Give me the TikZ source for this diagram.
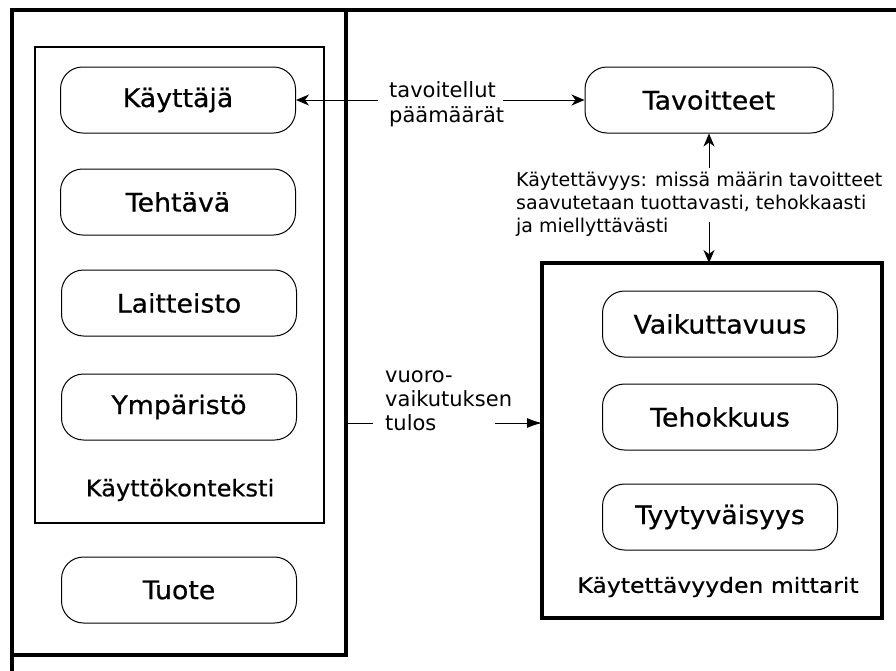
\documentclass[tikz,border=0pt]{standalone}
\usepackage{fontspec}
\setmainfont{DejaVu Sans}
\newfontfamily\labfont[FakeStretch=1.05,FakeBold=0.6]{DejaVu Sans}
\newfontfamily\widefont[FakeStretch=1.12,FakeBold=0.6]{DejaVu Sans}
\usetikzlibrary{arrows.meta}
\begin{document}
\begin{tikzpicture}[x=1pt,y=-1pt,
  frame/.style={draw, line width=4pt, inner sep=0pt, outer sep=0pt},
  thinframe/.style={draw, line width=1.3pt, inner sep=0pt, outer sep=0pt},
  rbox/.style={draw, line width=1pt, rounded corners=22pt, minimum width=235pt, minimum height=66pt, inner sep=0pt, font=\labfont\fontsize{25.5}{30}\selectfont},
  lab/.style={font=\labfont\fontsize{23}{28}\selectfont, inner sep=0pt},
  small/.style={font=\fontsize{19}{23}\selectfont, align=left, inner sep=0pt},
  arr/.style={line width=1pt, -{Stealth[length=13pt,width=11pt,inset=4pt]}},
  farr/.style={line width=1pt, -{Latex[length=15pt,width=10pt]}}
]
\useasboundingbox (0,0) rectangle (896,670);
\fill[white] (0,0) rectangle (896,670);

% frames
\node[frame, minimum width=334pt, minimum height=645pt] (lbox) at (179,332.5) {};
\node[thinframe, minimum width=289pt, minimum height=476pt] (ibox) at (179.5,285) {};
\node[frame, minimum width=340pt, minimum height=355pt] (rbox) at (712,440.5) {};
\coordinate (topend) at (898,10);
\coordinate (leftend) at (12,672);
\draw[line width=4pt] (lbox.north east) -- (topend);
\draw[line width=4pt] (lbox.south west) -- (leftend);

% left nodes
\node[rbox] (kayttaja) at (178,100) {Käyttäjä};
\node[rbox] (tehtava) at (178,202) {Tehtävä};
\node[rbox] (laitteisto) at (179,303) {Laitteisto};
\node[rbox] (ymparisto) at (179,407) {Ympäristö};
\node[lab] (kk) at (180,490) {Käyttökonteksti};
\node[rbox] (tuote) at (179,590) {Tuote};

% right nodes
\node[rbox, minimum width=248pt] (tavoitteet) at (709,100) {Tavoitteet};
\node[rbox] (vaik) at (720,324) {Vaikuttavuus};
\node[rbox] (teho) at (720,417) {Tehokkuus};
\node[rbox] (tyyty) at (720,517) {Tyytyväisyys};
\node[font=\widefont\fontsize{21}{25}\selectfont, inner sep=0pt] (mitt) at (718,587) {Käytettävyyden mittarit};

% labels
\node[small, font=\fontsize{21}{25}\selectfont, anchor=west] (tav) at (389,104) {tavoitellut\\päämäärät};
\node[small, anchor=north west] (kaytt) at (516,172) {Käytettävyys: missä määrin tavoitteet\\saavutetaan tuottavasti, tehokkaasti\\ja miellyttävästi};
\node[small, font=\fontsize{21}{24}\selectfont, anchor=west] (vuoro) at (385,401) {vuoro-\\vaikutuksen\\tulos};

% connectors
\coordinate (t1) at (378,100);
\coordinate (t2) at (503,100);
\draw[arr] (t1) -- (kayttaja.east);
\draw[arr] (t2) -- (tavoitteet.west);
\coordinate (u1) at (709,168);
\coordinate (d1) at (709,222);
\draw[arr] (u1) -- (tavoitteet.south);
\draw[arr] (d1) -- (d1 |- rbox.north);
\coordinate (v1) at (373,423);
\coordinate (v2) at (495,423);
\draw[line width=1pt] (lbox.east |- v1) -- (v1);
\draw[farr] (v2) -- (rbox.west |- v2);
\end{tikzpicture}
\end{document}
